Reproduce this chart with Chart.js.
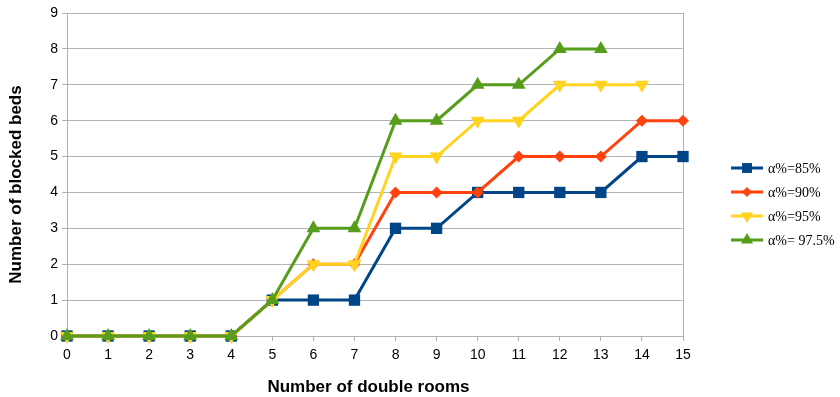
<!DOCTYPE html>
<html>
<head>
<meta charset="utf-8">
<script src="https://cdn.jsdelivr.net/npm/chart.js@4/dist/chart.umd.min.js"></script>
<style>
  html, body { margin: 0; padding: 0; background: #fff; }
  #wrap { width: 840px; height: 397px; position: relative; }
</style>
</head>
<body>
<div id="wrap"><canvas id="c" width="840" height="397"></canvas></div>
<script>
// Number of double rooms
const rooms = [0, 1, 2, 3, 4, 5, 6, 7, 8, 9, 10, 11, 12, 13, 14, 15];
// Number of blocked beds per service level
const beds85  = [0, 0, 0, 0, 0, 1, 1, 1, 3, 3, 4, 4, 4, 4, 5, 5];
const beds90  = [0, 0, 0, 0, 0, 1, 2, 2, 4, 4, 4, 5, 5, 5, 6, 6];
const beds95  = [0, 0, 0, 0, 0, 1, 2, 2, 5, 5, 6, 6, 7, 7, 7];
const beds975 = [0, 0, 0, 0, 0, 1, 3, 3, 6, 6, 7, 7, 8, 8];
const seriesNames = ['α%=85%', 'α%=90%', 'α%=95%', 'α%= 97.5%'];
const yTicks = [0, 1, 2, 3, 4, 5, 6, 7, 8, 9];
const xTitle = 'Number of double rooms';
const yTitle = 'Number of blocked beds';

const toPts = arr => arr.map((v, i) => ({ x: rooms[i], y: v }));

const styles = [
  { color: '#004586', pointStyle: 'rect', radius: 8, rotation: 0 },
  { color: '#ff420e', pointStyle: 'rectRot', radius: 6, rotation: 0 },
  { color: '#ffd320', pointStyle: 'triangle', radius: 8, rotation: 180 },
  { color: '#579d1c', pointStyle: 'triangle', radius: 8, rotation: 0 }
];
const values = [beds85, beds90, beds95, beds975];

const datasets = values.map((vals, i) => ({
  label: seriesNames[i],
  data: toPts(vals),
  borderColor: styles[i].color,
  backgroundColor: styles[i].color,
  borderWidth: 3,
  pointStyle: styles[i].pointStyle,
  pointRadius: styles[i].radius,
  pointRotation: styles[i].rotation,
  pointBorderWidth: 0,
  pointHoverRadius: styles[i].radius,
  tension: 0,
  clip: false,
  order: 3 - i
}));

// Legend with a line segment and a marker per series, drawn at the right
const sideLegend = {
  id: 'sideLegend',
  afterDraw(chart) {
    const ctx = chart.ctx;
    const x0 = 731, x1 = 763, tx = 768;
    const yStart = 168, gap = 24;
    ctx.save();
    ctx.font = '14px "Liberation Serif", "DejaVu Serif", serif';
    ctx.textBaseline = 'middle';
    chart.data.datasets.forEach((ds, i) => {
      const y = yStart + i * gap;
      ctx.strokeStyle = ds.borderColor;
      ctx.lineWidth = 3;
      ctx.beginPath();
      ctx.moveTo(x0, y);
      ctx.lineTo(x1, y);
      ctx.stroke();
      ctx.fillStyle = ds.backgroundColor;
      Chart.helpers.drawPoint(ctx, {
        pointStyle: ds.pointStyle,
        rotation: ds.pointRotation,
        radius: ds.pointRadius - 1,
        borderWidth: 0
      }, (x0 + x1) / 2, y);
      ctx.fillStyle = '#000';
      ctx.fillText(ds.label, tx, y + 1);
    });
    ctx.restore();
  }
};

// Axis titles, placed a little off the plot centre
const axisTitles = {
  id: 'axisTitles',
  afterDraw(chart) {
    const ctx = chart.ctx;
    ctx.save();
    ctx.font = 'bold 17px "Liberation Sans", Arial, sans-serif';
    ctx.fillStyle = '#000';
    ctx.textAlign = 'center';
    ctx.textBaseline = 'middle';
    ctx.fillText(xTitle, 368.5, 387);
    ctx.translate(16, 184.5);
    ctx.rotate(-Math.PI / 2);
    ctx.fillText(yTitle, 0, 0);
    ctx.restore();
  }
};

const axisFont = { family: '"Liberation Sans", Arial, sans-serif', size: 14 };

new Chart(document.getElementById('c'), {
  type: 'line',
  data: { datasets },
  options: {
    responsive: false,
    animation: false,
    devicePixelRatio: 1,
    layout: { padding: { left: 0, right: 157, top: 13, bottom: 0 } },
    plugins: {
      legend: { display: false },
      tooltip: { enabled: false }
    },
    scales: {
      x: {
        type: 'linear',
        min: 0,
        max: 15,
        afterFit(scale) { scale.height = 61; },
        ticks: {
          stepSize: 1,
          color: '#000',
          font: axisFont,
          padding: 6
        },
        grid: {
          color: ctx => (ctx.tick && (ctx.tick.value === 0 || ctx.tick.value === 15)) ? '#b3b3b3' : 'rgba(0,0,0,0)',
          tickColor: '#b3b3b3',
          tickLength: 5,
          lineWidth: 1
        },
        border: { display: false }
      },
      y: {
        min: 0,
        max: 9,
        afterFit(scale) { scale.width = 67; },
        afterBuildTicks(scale) { scale.ticks = yTicks.map(v => ({ value: v })); },
        ticks: {
          color: '#000',
          font: axisFont,
          padding: 4
        },
        grid: {
          color: '#b3b3b3',
          tickColor: '#b3b3b3',
          tickLength: 5,
          lineWidth: 1
        },
        border: { display: false }
      }
    }
  },
  plugins: [sideLegend, axisTitles]
});
</script>
</body>
</html>
